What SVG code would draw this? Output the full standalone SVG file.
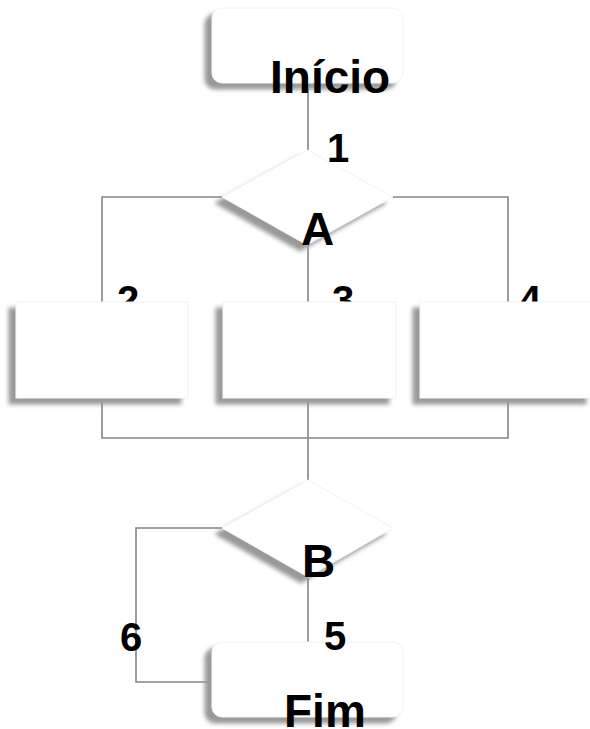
<svg xmlns="http://www.w3.org/2000/svg" width="590" height="729" viewBox="0 0 590 729">
<defs>
<filter id="sh" x="-20%" y="-20%" width="140%" height="140%">
<feGaussianBlur in="SourceAlpha" stdDeviation="2.2" result="b"/>
<feOffset in="b" dx="-7" dy="6" result="o"/>
<feFlood flood-color="#999999" result="c"/>
<feComposite in="c" in2="o" operator="in" result="s"/>
<feMerge><feMergeNode in="s"/><feMergeNode in="SourceGraphic"/></feMerge>
</filter>
</defs>
<style>
.shape{fill:#ffffff;stroke:#f2f2f2;stroke-width:1;filter:url(#sh)}
.conn{fill:none;stroke:#858585;stroke-width:1.6}
.t{font-family:"Liberation Sans",Arial,sans-serif;font-weight:bold;font-size:46px;fill:#000}
.lbl{font-family:"Liberation Sans",Arial,sans-serif;font-weight:bold;font-size:40px;fill:#000}
</style>
<rect width="590" height="729" fill="#ffffff"/>
<g id="connectors">
<path class="conn" d="M308,83 V150"/>
<path class="conn" d="M222,197 H102 V302"/>
<path class="conn" d="M308,245 V302"/>
<path class="conn" d="M393,197 H508 V302"/>
<path class="conn" d="M102,398 V438 H508 V398"/>
<path class="conn" d="M308,398 V480"/>
<path class="conn" d="M308,577 V642"/>
<path class="conn" d="M222,528 H136 V682 H212"/>
<text class="lbl" x="117" y="314">2</text>
<text class="lbl" x="332" y="314">3</text>
<text class="lbl" x="519" y="314">4</text>
</g>
<g id="inicio">
<rect class="shape" x="212" y="8" width="191" height="75" rx="10"/>
<text class="t" x="270" y="93">Início</text>
</g>
<g id="decisionA">
<polygon class="shape" points="307,150 393,197 307,245 222,197"/>
<text class="t" x="301" y="245">A</text>
</g>
<g id="box1">
<rect class="shape" x="16" y="302" width="172" height="96"/>
</g>
<g id="box2">
<rect class="shape" x="223" y="302" width="173" height="96"/>
</g>
<g id="box3">
<rect class="shape" x="420" y="302" width="173" height="96"/>
</g>
<g id="decisionB">
<polygon class="shape" points="308,480 393,528 308,577 222,528"/>
<text class="t" x="302" y="577">B</text>
</g>
<g id="fim">
<rect class="shape" x="212" y="642" width="191" height="75" rx="10"/>
<text class="t" x="284" y="727">Fim</text>
</g>
<g id="labels">
<text class="lbl" x="327" y="162">1</text>
<text class="lbl" x="324" y="650">5</text>
<text class="lbl" x="120" y="651">6</text>
</g>
</svg>
